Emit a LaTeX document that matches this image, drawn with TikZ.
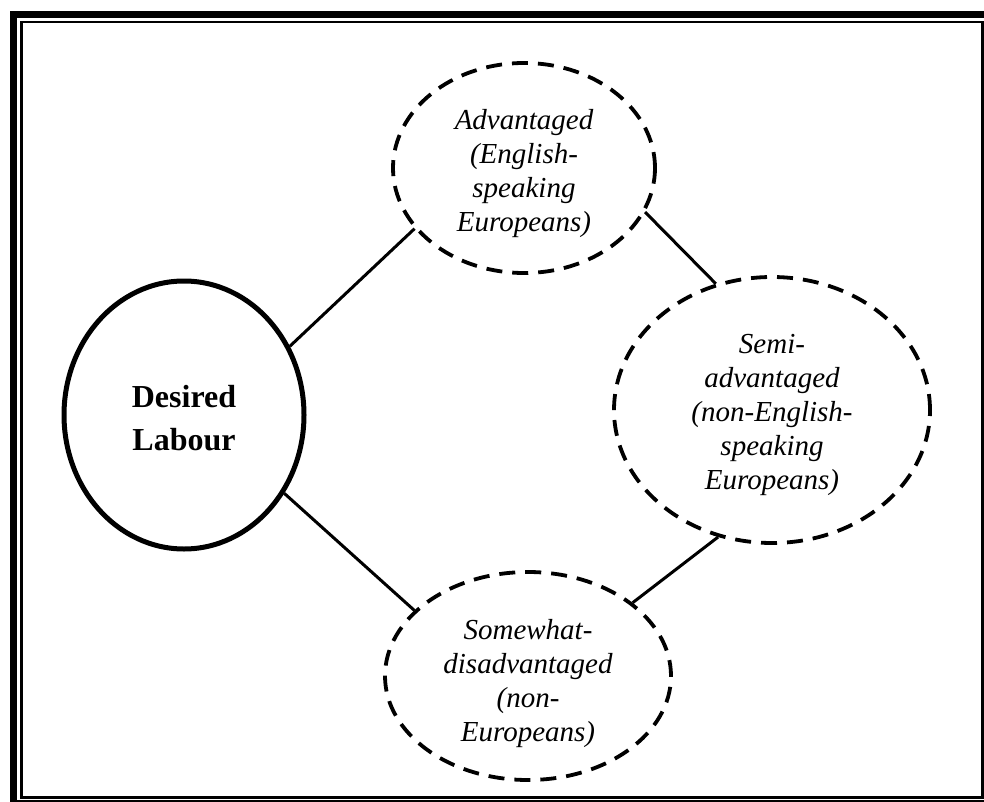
\documentclass[tikz,border=0pt]{standalone}
\usepackage{fontspec}
\setmainfont{Liberation Serif}
\usetikzlibrary{shapes.geometric}

\tikzset{
  core/.style={ellipse, draw, line width=5pt, inner sep=0pt},
  group/.style={ellipse, draw, line width=3.8pt, dash pattern=on 16pt off 10pt,
    inner sep=0pt},
  coretext/.style={align=center, inner sep=0pt,
    font=\bfseries\fontsize{32}{43}\selectfont},
  grouptext/.style={align=center, inner sep=0pt,
    font=\itshape\fontsize{29}{34}\selectfont},
  link/.style={line width=3pt},
  frameouter/.style={line width=7pt},
  frameinner/.style={line width=2.5pt}
}

\begin{document}
\begin{tikzpicture}[x=1pt, y=-1pt]
  \clip (0,0) rectangle (984,802);

  % double frame
  \draw[frameouter] (13.5,14.5) rectangle (991,803);
  \draw[frameinner] (21.5,22) rectangle (982.5,797.5);

  % ellipses
  \node[core, minimum width=240pt, minimum height=268pt] (dl) at (184,415) {};
  \node[group, minimum width=262pt, minimum height=210pt] (adv) at (524,168) {};
  \node[group, minimum width=316pt, minimum height=266pt] (semi) at (772,410) {};
  \node[group, minimum width=286pt, minimum height=208pt] (some) at (528,676) {};

  % labels
  \node[coretext] (dltext) at ([yshift=-3pt]dl.center) {Desired\\Labour};
  \node[grouptext] (advtext) at ([yshift=-6pt]adv.center)
    {Advantaged\\(English-\\speaking\\Europeans)};
  \node[grouptext] (semitext) at ([yshift=-5pt]semi.center)
    {Semi-\\advantaged\\(non-English-\\speaking\\Europeans)};
  \node[grouptext] (sometext) at ([yshift=-8pt]some.center)
    {Somewhat-\\disadvantaged\\(non-\\Europeans)};

  % connectors
  \draw[link] (dl.33.7) -- (adv.209.3);
  \draw[link] (dl.-38.5) -- (some.150.9);
  \draw[link] (adv.-20.8) -- (semi.114.6);
  \draw[link] (semi.247.1) -- (some.35.6);
\end{tikzpicture}
\end{document}
